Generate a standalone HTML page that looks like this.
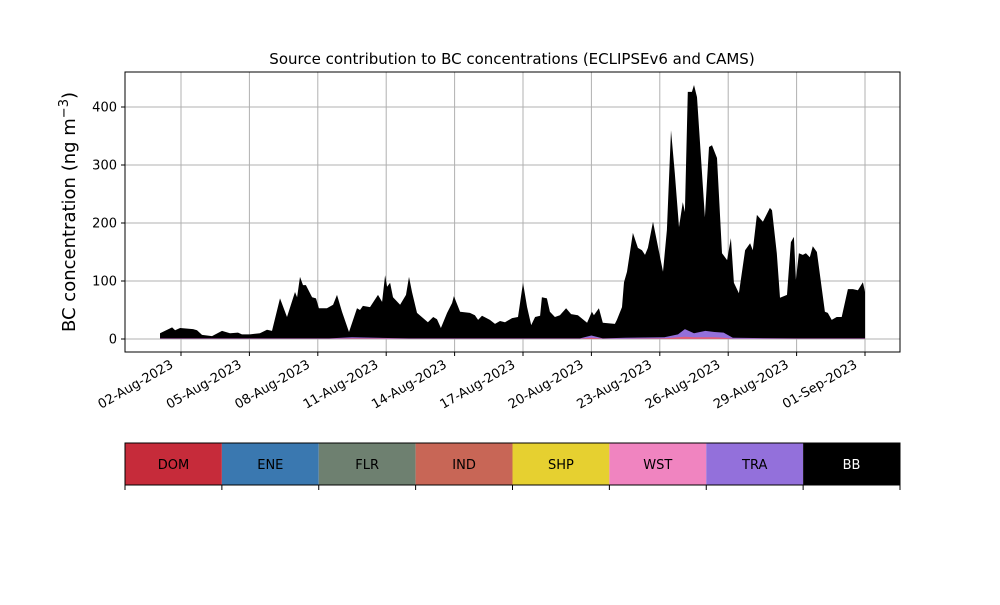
<!DOCTYPE html>
<html><head><meta charset="utf-8"><style>
body{margin:0;background:#fff;font-family:"Liberation Sans","DejaVu Sans",sans-serif}
svg text{font-family:"DejaVu Sans","Liberation Sans",sans-serif}
</style></head><body>
<svg id="c" width="1000" height="600" xmlns="http://www.w3.org/2000/svg"></svg>
<script>
const days=[1.08,1.61,1.74,1.96,2.53,2.70,2.92,3.36,3.80,4.15,4.50,4.67,5.02,5.46,5.77,5.99,6.34,6.65,7.00,7.09,7.22,7.35,7.48,7.75,7.92,8.05,8.40,8.67,8.84,9.06,9.37,9.72,9.85,9.98,10.29,10.64,10.82,10.95,11.04,11.17,11.30,11.61,11.87,12.00,12.13,12.35,12.83,13.06,13.23,13.40,13.67,13.89,13.97,14.24,14.67,14.89,15.03,15.20,15.55,15.77,15.99,16.21,16.52,16.78,17.00,17.18,17.36,17.53,17.75,17.83,18.05,18.18,18.40,18.62,18.89,19.11,19.41,19.81,20.02,20.11,20.33,20.50,21.03,21.12,21.34,21.43,21.56,21.82,22.04,22.22,22.35,22.48,22.70,22.92,23.14,23.31,23.49,23.66,23.84,24.01,24.10,24.23,24.41,24.50,24.63,24.98,25.16,25.29,25.51,25.73,25.95,26.12,26.25,26.47,26.74,26.96,27.08,27.26,27.52,27.83,27.92,28.13,28.27,28.58,28.75,28.88,28.97,29.10,29.27,29.41,29.58,29.71,29.89,30.24,30.37,30.54,30.76,30.98,31.25,31.47,31.69,31.91,32.0];
const bbTotal=[10,20,15,19,17,15,7,5,14,10,11,8,8,10,16,14,70,38,81,72,107,93,93,72,70,53,53,59,76,47,12,53,50,57,55,76,64,110,90,97,72,59,76,107,81,45,29,38,34,19,45,62,74,47,45,41,33,40,33,26,31,29,36,38,97,55,24,38,40,72,70,47,38,41,53,43,41,28,47,41,53,28,26,33,55,98,116,183,157,153,145,157,202,159,116,188,360,286,193,236,219,426,426,438,417,210,331,334,312,148,136,174,97,79,153,165,153,214,202,226,222,148,71,76,167,176,102,148,145,148,141,160,150,47,45,33,38,38,86,86,84,98,81];
const traDays=[1.08,8.5,9.5,12,19.5,20,20.5,21.5,23.2,23.8,24.1,24.5,25,25.4,25.8,26.2,29,32];
const traVals=[1,1,3,1,1,6,1,2,3,8,17,10,14,12,11,2,1,1];
const wstVals=[0.5,0.5,1,0.5,0.5,2,0.5,0.5,1,3,4,3,3,3,2,0.5,0.5,0.5];
const tickLabels=["02-Aug-2023","05-Aug-2023","08-Aug-2023","11-Aug-2023","14-Aug-2023","17-Aug-2023","20-Aug-2023","23-Aug-2023","26-Aug-2023","29-Aug-2023","01-Sep-2023"];
const tickDays=[2,5,8,11,14,17,20,23,26,29,32];
const yTicks=[0,100,200,300,400];
const sources=["DOM","ENE","FLR","IND","SHP","WST","TRA","BB"];
const srcColors=["#c62b3a","#3a78b0","#6e8070","#c86656","#e6d030","#f084c0","#9370db","#000000"];

const NS="http://www.w3.org/2000/svg";
const svg=document.getElementById('c');
const L=125,R=900,T=72,B=352;
const X=d=>181+(d-2)*22.8;
const Y=v=>339-v*0.58;
function el(t,a,p){const e=document.createElementNS(NS,t);for(const k in a)e.setAttribute(k,a[k]);(p||svg).appendChild(e);return e;}
tickDays.forEach(d=>{const g=el('line',{x1:X(d),x2:X(d),y1:T,y2:B,stroke:'#b0b0b0','stroke-width':1});

});
yTicks.forEach(v=>{const g=el('line',{x1:L,x2:R,y1:Y(v),y2:Y(v),stroke:'#b0b0b0','stroke-width':1});

});
let p='M'+X(days[0])+','+Y(0);
days.forEach((d,i)=>p+=' L'+X(d).toFixed(1)+','+Y(bbTotal[i]).toFixed(1));
p+=' L'+X(days[days.length-1])+','+Y(0)+'Z';
const bb=el('path',{d:p,fill:'#000'});


let q='M'+X(traDays[0])+','+Y(0);
traDays.forEach((d,i)=>q+=' L'+X(d).toFixed(1)+','+Y(traVals[i]).toFixed(1));
q+=' L'+X(traDays[traDays.length-1])+','+Y(0)+'Z';
const tra=el('path',{d:q,fill:'#9370db'});


let w='M'+X(traDays[0])+','+Y(0);
traDays.forEach((d,i)=>w+=' L'+X(d).toFixed(1)+','+Y(wstVals[i]).toFixed(1));
w+=' L'+X(traDays[traDays.length-1])+','+Y(0)+'Z';
const ws=el('path',{d:w,fill:'#e0607a'});


const fr=el('rect',{x:L,y:T,width:R-L,height:B-T,fill:'none',stroke:'#000','stroke-width':1});


yTicks.forEach(v=>{el('line',{x1:L-4,x2:L,y1:Y(v),y2:Y(v),stroke:'#000'});
const t=el('text',{x:L-8,y:Y(v)+4.5,'text-anchor':'end','font-size':13});t.textContent=v;

});
tickDays.forEach((d,i)=>{el('line',{x1:X(d),x2:X(d),y1:B,y2:B+4,stroke:'#000'});
const tx=X(d)-7, ty=B+15;
const t=el('text',{x:tx,y:ty,'text-anchor':'end','font-size':13,transform:`rotate(-30 ${tx} ${ty})`});t.textContent=tickLabels[i];

});
const ti=el('text',{x:512,y:64,'text-anchor':'middle','font-size':15});ti.textContent='Source contribution to BC concentrations (ECLIPSEv6 and CAMS)';


const yl=el('text',{x:75,y:212,'text-anchor':'middle','font-size':18,transform:'rotate(-90 75 212)'});
yl.innerHTML='BC concentration (ng m<tspan dy="-7" font-size="13">−3</tspan><tspan dy="7">)</tspan>';


const sw=(R-L)/sources.length;
sources.forEach((s,i)=>{const r=el('rect',{x:L+i*sw,y:443,width:sw,height:42,fill:srcColors[i]});


const t=el('text',{x:L+i*sw+sw/2,y:469,'text-anchor':'middle','font-size':13,fill:s==='BB'?'#fff':'#000'});t.textContent=s;

});
for(let i=0;i<=sources.length;i++){el('line',{x1:L+i*sw,x2:L+i*sw,y1:485,y2:490,stroke:'#000'});}
const cb=el('rect',{x:L,y:443,width:R-L,height:42,fill:'none',stroke:'#000','stroke-width':1});


</script>
</body></html>
